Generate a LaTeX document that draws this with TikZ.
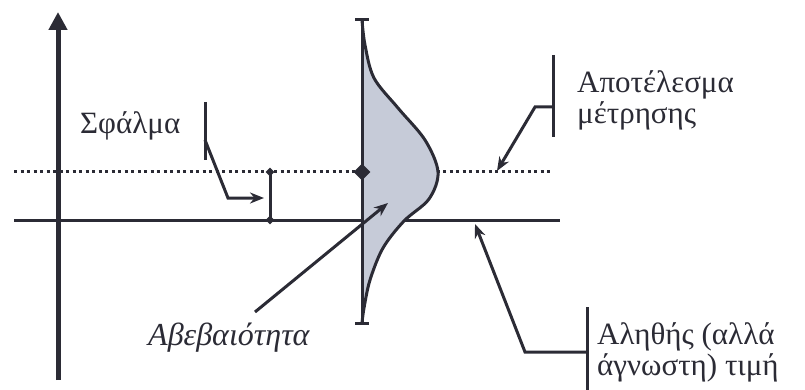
\documentclass[tikz,border=0pt]{standalone}
\usepackage{fontspec}
\setmainfont{Liberation Serif}
\usetikzlibrary{arrows.meta,shapes.geometric}
\definecolor{ink}{HTML}{2B2B35}
\definecolor{distfill}{HTML}{C6CBD8}
\begin{document}
\begin{tikzpicture}[x=1pt,y=-1pt,
  lbl/.style={font=\fontsize{31}{31}\selectfont, text=ink, inner sep=0pt, align=left},
  conn/.style={draw=ink, line width=3pt},
  arr/.style={conn, -{Stealth[length=14pt,width=11pt]}},
  dot/.style={diamond, fill=ink, inner sep=0pt}]
\useasboundingbox (0,0) rectangle (805,390);
% axes
\draw[ink, line width=5pt, -{Triangle[length=18pt,width=18pt]}] (58,380) -- (58,12);
\draw[conn] (14,220) -- (560,220);
\draw[ink, line width=3pt, dash pattern=on 3pt off 3.5pt] (14,172) -- (552,172);
% distribution
\def\curve{(362,20) (365,45) (374,78) (398,108) (425,140) (438,172) (429,199) (404,221) (383,248) (370,280) (364,308) (362,323)}
\fill[distfill] plot[smooth, tension=0.55] coordinates {\curve} -- cycle;
\draw[conn] plot[smooth, tension=0.55] coordinates {\curve};
\draw[conn] (362,20) -- (362,323);
\draw[conn] (355,20) -- (369,20);
\draw[conn] (355,323) -- (369,323);
\node[dot, minimum size=17pt] (meas) at (362,172) {};
% error bar
\node[dot, minimum size=9pt] (et) at (270,172) {};
\node[dot, minimum size=9pt] (eb) at (270,220) {};
\draw[conn] (et.center) -- (eb.center);
% labels
\node[lbl, anchor=base west] (sf) at (80,134) {Σφάλμα};
\node[lbl, anchor=base west, font=\fontsize{32}{32}\selectfont\itshape] (ab) at (148,345) {Αβεβαιότητα};
\node[lbl, anchor=west] (ap) at (577,100) {Αποτέλεσμα\\μέτρησης};
\node[lbl, anchor=west] (al) at (597,352) {Αληθής (αλλά\\άγνωστη) τιμή};
% Sfalma bracket
\draw[conn] (205,102) -- (205,160);
\coordinate (sfk) at (205,140);
\coordinate (sfb) at (228,198);
\coordinate (sft) at (264,198);
\draw[arr] (sfk) -- (sfb) -- (sft);
% Abebaiotita arrow
\coordinate (abs) at (255,312);
\coordinate (abt) at (388,203);
\draw[arr] (abs) -- (abt);
% Apotelesma bracket
\draw[conn] (553,55) -- (553,137);
\coordinate (apk) at (553,107);
\coordinate (apb) at (535,107);
\coordinate (apt) at (497,171);
\draw[arr] (apk) -- (apb) -- (apt);
% Alithis bracket
\draw[conn] (587,307) -- (587,392);
\coordinate (alk) at (587,352);
\coordinate (alb) at (525,352);
\coordinate (alt) at (475,224);
\draw[arr] (alk) -- (alb) -- (alt);
\end{tikzpicture}
\end{document}
